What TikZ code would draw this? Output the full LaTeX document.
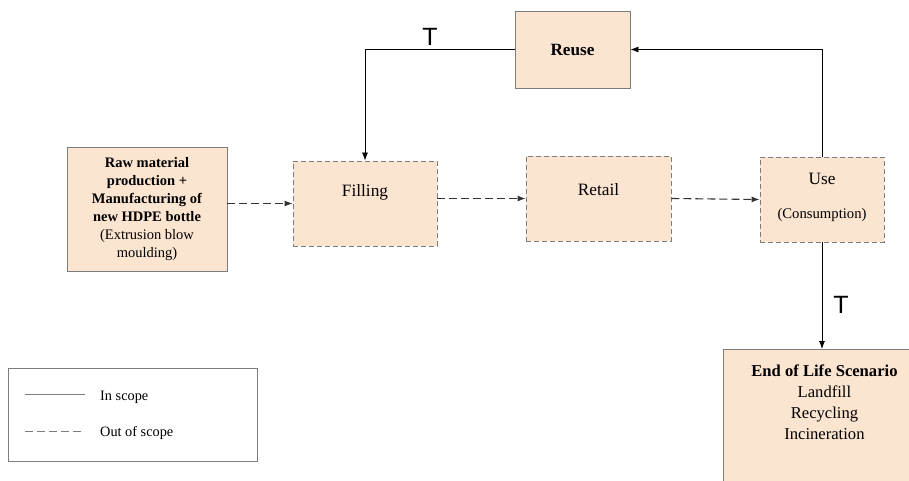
\documentclass[tikz,border=0pt]{standalone}
\usepackage{fontspec}
\setmainfont{Liberation Serif}
\newfontfamily\tfont{Liberation Sans}
\usetikzlibrary{arrows.meta,positioning}
\definecolor{peach}{RGB}{251,228,208}
\definecolor{edgegray}{RGB}{125,125,125}

\begin{document}
\begin{tikzpicture}[x=1pt,y=-1pt,>={Latex[length=8pt,width=6pt]},
    box/.style={draw=edgegray,fill=peach,inner sep=0pt,line width=0.9pt},
    dbox/.style={box,dash pattern=on 5pt off 3pt},
    flow/.style={->,line width=0.8pt},
    dflow/.style={flow,black!80,line width=1.1pt,dash pattern=on 8pt off 4pt},
    intext/.style={anchor=north,inner sep=0pt},
    tmark/.style={font=\tfont\fontsize{25}{27}\selectfont,anchor=base,inner sep=0pt},
    every node/.style={font=\fontsize{17.3}{21}\selectfont}]
  \useasboundingbox (0,0) rectangle (909,481);
  % process boxes
  \node[box,minimum width=160pt,minimum height=124pt,align=center,
        font=\fontsize{14.5}{18}\selectfont] (raw) at (147,209)
    {\textbf{Raw material}\\\textbf{production +}\\\textbf{Manufacturing of}\\
     \textbf{new HDPE bottle}\\(Extrusion blow\\moulding)};
  \node[dbox,minimum width=144pt,minimum height=85pt,
        label={[intext,yshift=-24pt]north:Filling}] (filling) at (365,203.5) {};
  \node[dbox,minimum width=145pt,minimum height=85pt,
        label={[intext,yshift=-28pt]north:Retail}] (retail) at (598.5,198.5) {};
  \node[dbox,minimum width=124pt,minimum height=85pt,
        label={[intext,yshift=-16pt]north:Use},
        label={[intext,yshift=-52pt,font=\fontsize{14.7}{17}\selectfont]north:(Consumption)}]
    (use) at (822,199.5) {};
  \node[box,minimum width=115pt,minimum height=77pt,font=\bfseries\fontsize{17.2}{21}\selectfont]
    (reuse) at (572.5,49.5) {Reuse};
  \node[box,minimum width=190pt,minimum height=136pt,anchor=north west] (eol) at (723,349) {};
  \node[intext,align=center,font=\fontsize{16.6}{21}\selectfont]
    (eoltext) at ([xshift=6pt,yshift=-16pt]eol.north)
    {\textbf{End of Life Scenario}\\Landfill\\Recycling\\Incineration};
  % flows
  \draw[dflow] (raw.east |- filling) -- (filling.west);
  \draw[dflow] (filling.east |- retail) -- (retail.west);
  \draw[dflow] (retail.east) -- (use.west);
  \draw[flow] (use.north) |- (reuse.east);
  \draw[flow] (reuse.west) -| (filling.north);
  \draw[flow] (use.south) -- (use.south |- eol.north);
  \node[tmark] (t1) at (430,46) {T};
  \node[tmark] (t2) at (841,313) {T};
  % legend
  \node[draw=edgegray,line width=0.9pt,minimum width=249pt,minimum height=93pt,inner sep=0pt]
    (legend) at (132.5,414.5) {};
  \coordinate (ls1) at (25,394);
  \coordinate (ls2) at (85,394);
  \coordinate (ld1) at (25,431);
  \coordinate (ld2) at (85,431);
  \draw[edgegray,line width=0.9pt] (ls1) -- (ls2);
  \draw[edgegray,line width=0.9pt,dash pattern=on 8pt off 4pt] (ld1) -- (ld2);
  \node[anchor=west,inner sep=0pt,font=\fontsize{14.3}{17}\selectfont] (lin) at (100,397) {In scope};
  \node[anchor=west,inner sep=0pt,font=\fontsize{14.3}{17}\selectfont] (lout) at (100,433) {Out of scope};
\end{tikzpicture}
\end{document}
